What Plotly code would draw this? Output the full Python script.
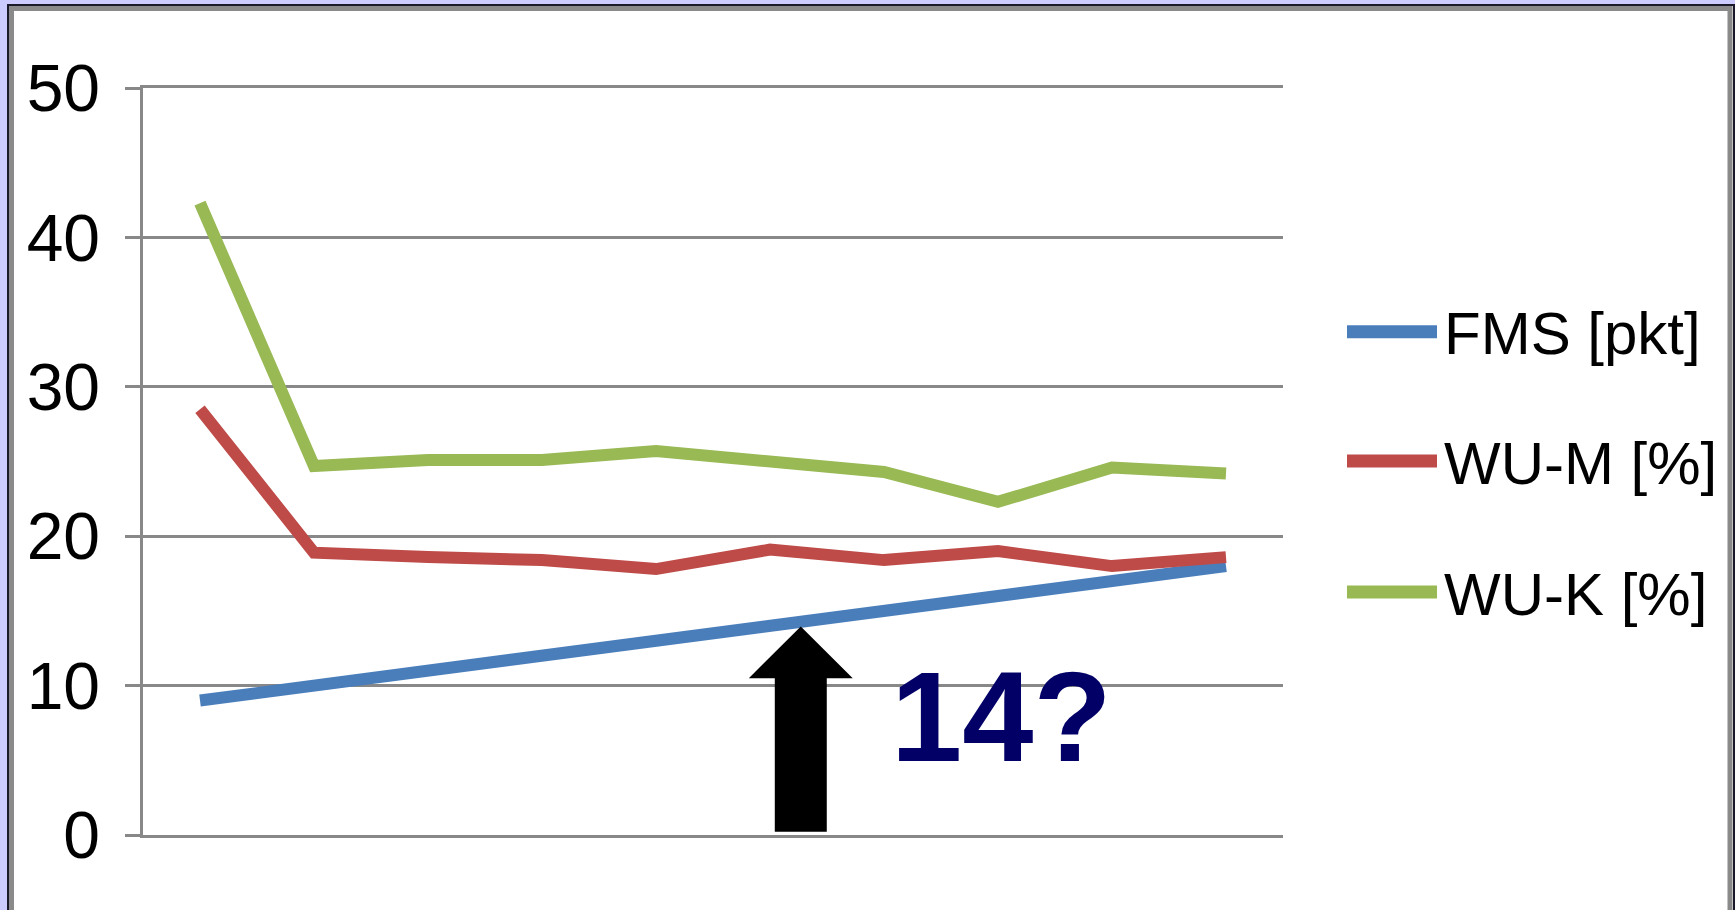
import plotly.graph_objects as go

# ---- data ----
categories = ["1", "2", "3", "4", "5", "6", "7", "8", "9", "10"]
series_names = ["FMS [pkt]", "WU-M [%]", "WU-K [%]"]
fms = [9, 10, 11, 12, 13, 14, 15, 16, 17, 18]
wu_m = [28.5, 18.9, 18.6, 18.4, 17.8, 19.1, 18.4, 19.0, 18.0, 18.6]
wu_k = [42.3, 24.7, 25.1, 25.1, 25.7, 25.0, 24.3, 22.3, 24.6, 24.2]
y_ticks = [0, 10, 20, 30, 40, 50]
annotation_text = "14?"

colors = ["#4A7EBB", "#BE4B48", "#98B954"]
W, H = 1735, 910
L, R, T, B = 143, 1283, 88, 835  # plot area pixel box


def px(x):
    return (x - L) / (R - L)


def py(y):
    return (B - y) / (B - T)


font_family = "Liberation Sans, Arial, sans-serif"

fig = go.Figure()
for name, vals, col in zip(series_names, [fms, wu_m, wu_k], colors):
    fig.add_trace(go.Scatter(x=categories, y=vals, mode="lines", name=name,
                             line=dict(color=col, width=12), showlegend=False))

shapes = []
# slide frame
shapes.append(dict(type="rect", xref="paper", yref="paper", layer="below",
                   x0=px(8), x1=px(1734), y0=py(930), y1=py(5),
                   fillcolor="white", line=dict(color="#1a1a2a", width=2)))
shapes.append(dict(type="rect", xref="paper", yref="paper", layer="below",
                   x0=px(11.5), x1=px(1730), y0=py(940), y1=py(8.5),
                   fillcolor="rgba(0,0,0,0)", line=dict(color="#8a8a8a", width=5)))

# manual legend
legend_y = [331.7, 461, 592]
annotations = []
for name, col, ly in zip(series_names, colors, legend_y):
    shapes.append(dict(type="line", xref="paper", yref="paper",
                       x0=px(1347), x1=px(1437), y0=py(ly), y1=py(ly),
                       line=dict(color=col, width=13)))
    annotations.append(dict(xref="paper", yref="paper", x=px(1442), y=py(ly + 2),
                            xanchor="left", yanchor="middle", showarrow=False,
                            text=name, font=dict(family=font_family, size=60, color="black")))

# block arrow (category index on x, value on y)
tip_x, tip_y = 5.27, 13.95
head_half, shaft_half, head_base = 0.456, 0.228, 10.5
arrow_path = (f"M {tip_x},{tip_y} L {tip_x + head_half},{head_base} "
              f"L {tip_x + shaft_half},{head_base} L {tip_x + shaft_half},0.22 "
              f"L {tip_x - shaft_half},0.22 L {tip_x - shaft_half},{head_base} "
              f"L {tip_x - head_half},{head_base} Z")
shapes.append(dict(type="path", xref="x", yref="y", path=arrow_path,
                   fillcolor="black", line=dict(color="black", width=0)))

annotations.append(dict(xref="paper", yref="paper", x=px(1001), y=py(716),
                        xanchor="center", yanchor="middle", showarrow=False,
                        text=f"<b>{annotation_text}</b>",
                        font=dict(family=font_family, size=128, color="#020066")))

fig.update_layout(
    width=W, height=H,
    margin=dict(l=L, r=W - R, t=T, b=H - B, pad=0),
    paper_bgcolor="#CCCCFF",
    plot_bgcolor="white",
    shapes=shapes,
    annotations=annotations,
    showlegend=False,
)
fig.update_xaxes(showticklabels=False, showgrid=False, ticks="",
                 showline=True, mirror=True, linecolor="#888888", linewidth=2.5,
                 range=[-0.5, 9.5], zeroline=False)
fig.update_yaxes(range=[0, 50], tickvals=y_ticks, showgrid=True, gridcolor="#888888",
                 gridwidth=2.5, zeroline=False, showline=True, linecolor="#888888",
                 linewidth=2.5, ticks="outside", ticklen=15, tickcolor="#888888",
                 tickwidth=2.5, ticklabelstandoff=12,
                 tickfont=dict(family=font_family, size=66, color="black"))

fig.write_html("out.html")
